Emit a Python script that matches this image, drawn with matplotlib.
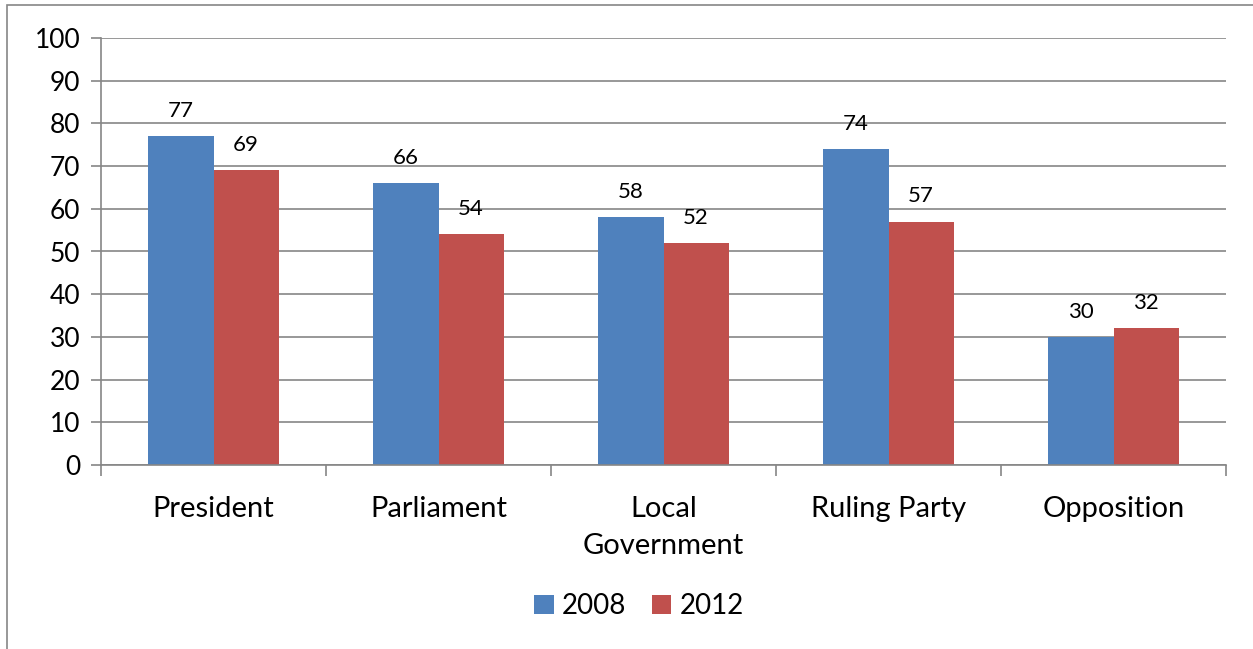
import matplotlib.pyplot as plt
import numpy as np
from matplotlib.patches import Rectangle

plt.rcParams['font.family'] = ['Lato', 'DejaVu Sans']

# data
categories = ['President', 'Parliament', 'Local\nGovernment', 'Ruling Party', 'Opposition']
series_names = ['2008', '2012']
vals_2008 = [77, 66, 58, 74, 30]
vals_2012 = [69, 54, 52, 57, 32]
colors = ['#4F81BD', '#C0504D']

W, H = 1253, 649
fig = plt.figure(figsize=(W / 100, H / 100), dpi=100)

# outer chart frame
frame = Rectangle((7 / W, -0.05), 1.2, 1 - 5 / H + 0.05, transform=fig.transFigure,
                  fill=False, edgecolor='#868686', linewidth=1.2)
fig.patches.append(frame)

ax = fig.add_axes([101 / W, 1 - 465 / H, (1226 - 101) / W, (465 - 38) / H])

x = np.arange(len(categories))
bw = 0.29
b1 = ax.bar(x - bw / 2, vals_2008, bw, color=colors[0], label=series_names[0])
b2 = ax.bar(x + bw / 2, vals_2012, bw, color=colors[1], label=series_names[1])

for bars in (b1, b2):
    for r in bars:
        ax.annotate(f'{r.get_height():.0f}', (r.get_x() + r.get_width() / 2, r.get_height()),
                    xytext=(0, 11), textcoords='offset points', ha='center', va='bottom',
                    fontsize=16)

ax.set_xlim(-0.5, len(categories) - 0.5)
ax.set_ylim(0, 100)
ax.set_yticks(np.arange(0, 101, 10))
ax.yaxis.grid(True, color='#868686', linewidth=1.2)
ax.set_axisbelow(True)

ax.set_xticks(x)
ax.set_xticklabels(categories, fontsize=21, linespacing=1.55)
ax.tick_params(axis='x', length=0, pad=22)
ax.set_xticks(np.arange(-0.5, len(categories), 1), minor=True)
ax.tick_params(axis='x', which='minor', length=8, color='#868686', width=1.2)
ax.tick_params(axis='y', labelsize=19, length=7, color='#868686', width=1.2, pad=8)

for s in ['top', 'right']:
    ax.spines[s].set_visible(False)
for s in ['left', 'bottom']:
    ax.spines[s].set_color('#868686')
    ax.spines[s].set_linewidth(1.2)

fig.legend(handles=[b1, b2], labels=series_names, loc='center', bbox_to_anchor=(0.51, 1 - 606 / H),
           ncol=2, frameon=False, fontsize=20, handlelength=0.7, handleheight=0.7,
           handletextpad=0.3, columnspacing=0.9)

fig.savefig('out.png', dpi=100)
